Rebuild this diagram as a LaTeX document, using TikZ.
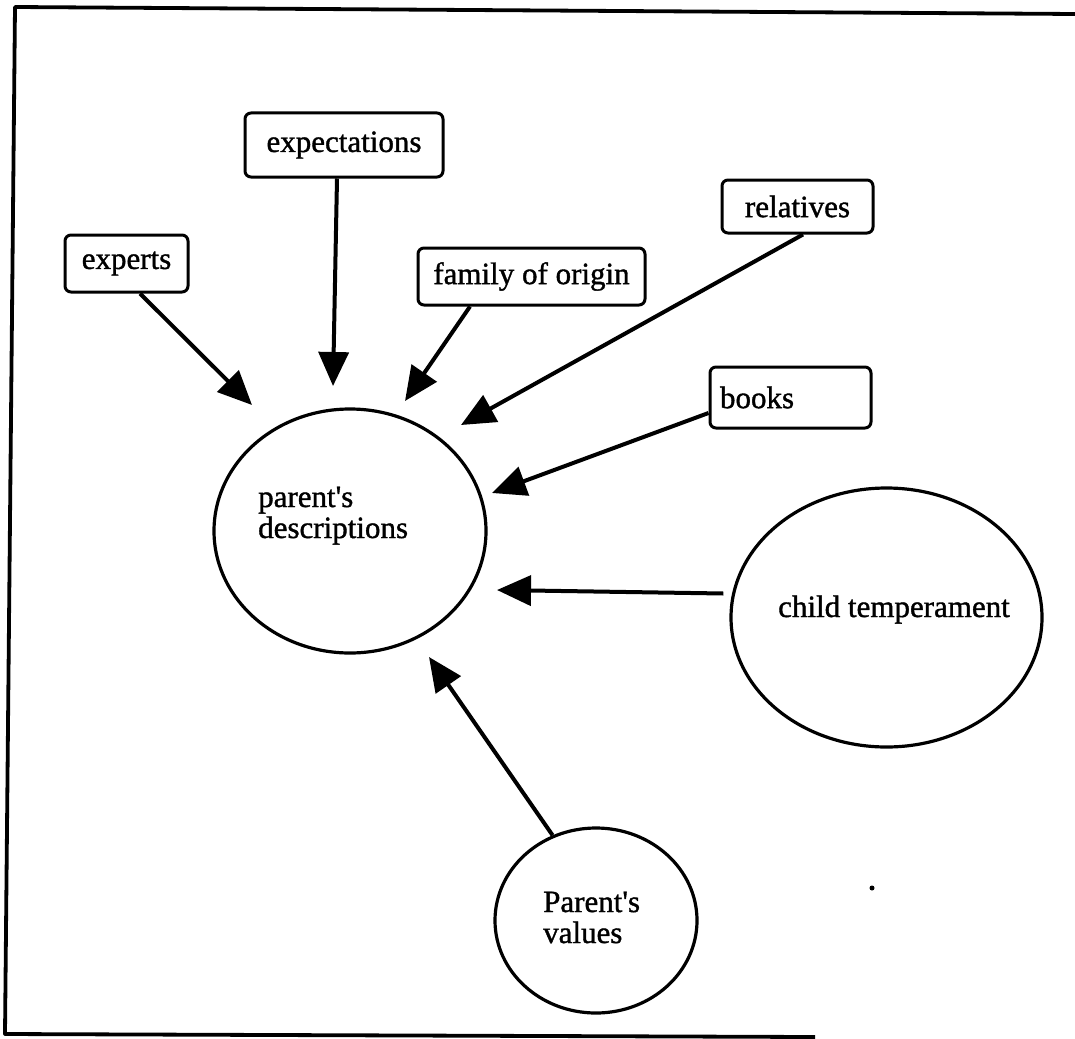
\documentclass[tikz,border=0pt]{standalone}
\usepackage{fontspec}
\setmainfont{Liberation Serif}
\newfontfamily\labelfont{Liberation Serif}[FakeBold=1.2]
\usetikzlibrary{arrows.meta,shapes.geometric,calc}

% straight apostrophe as printed
\newcommand{\sq}{\symbol{39}}

\tikzset{
  srcbox/.style={draw, line width=3pt, rounded corners=6pt, inner sep=0pt,
    align=center, font=\labelfont\fontsize{31}{31}\selectfont},
  bubble/.style={draw, line width=3.2pt, ellipse, inner sep=0pt},
  bubbletext/.style={font=\labelfont\fontsize{31}{31}\selectfont, inner sep=0pt},
  influence/.style={line width=4pt,
    -{Triangle[length=34pt,width=30pt]}},
  frameline/.style={line width=3.8pt, line join=round}
}

\begin{document}
\begin{tikzpicture}[x=1pt,y=-1pt]
  \useasboundingbox (0,0) rectangle (1075,1038);

  % open frame round the figure
  \draw[frameline] (1075,14) -- (15,7) -- (5,1034) -- (815,1037);

  % sources of influence
  \node[srcbox, minimum width=123pt, minimum height=57pt] (experts) at (126.5,263.5) {experts};
  \node[srcbox, minimum width=198pt, minimum height=64pt] (expect) at (344,145) {expectations};
  \node[srcbox, minimum width=227pt, minimum height=57pt] (family) at (531.5,276.5) {family of origin};
  \node[srcbox, minimum width=151pt, minimum height=53pt] (relatives) at (797.5,206.5) {relatives};
  \node[srcbox, minimum height=61pt, text width=141pt, align=left, inner xsep=10pt] (books) at (790.5,397.5) {books};

  % ellipses (the anchor 'base' of a two-line label is its last baseline)
  \node[bubble, minimum width=272pt, minimum height=244pt] (pd) at (350,531) {};
  \node[bubbletext, anchor=base west, align=left] (pdtext) at (258,538) {parent\sq s\\descriptions};

  \node[bubble, minimum width=311pt, minimum height=259pt] (child) at (886.5,617.5) {};
  \node[bubbletext, anchor=base] (childtext) at (894,617) {child temperament};

  \node[bubble, minimum width=202pt, minimum height=185pt] (values) at (596,920.5) {};
  \node[bubbletext, anchor=base west, align=left] (valuestext) at (543,943) {Parent\sq s\\values};

  % arrow tips near the central ellipse
  \coordinate (tExperts) at (252,405);
  \coordinate (tExpect) at (333,386);
  \coordinate (tFamily) at (405,401);
  \coordinate (tRelatives) at (461,425);
  \coordinate (tBooks) at (492,493);
  \coordinate (tChild) at (497,590);
  \coordinate (tValues) at (429,657);

  % influences
  \draw[influence] ([xshift=13.5pt]experts.south) -- (tExperts);
  \draw[influence] ([xshift=-7pt]expect.south) -- (tExpect);
  \draw[influence] ([xshift=-61.5pt]family.south) -- (tFamily);
  \draw[influence] ([xshift=5.5pt]relatives.south) -- (tRelatives);
  \draw[influence] ([yshift=-15.5pt]books.west) -- (tBooks);
  \draw[influence] ([xshift=-6pt,yshift=24pt]child.west) -- (tChild);
  \draw[influence] (values.117) -- (tValues);

  % stray speck
  \fill (872,888) circle (2.5pt);
\end{tikzpicture}
\end{document}
